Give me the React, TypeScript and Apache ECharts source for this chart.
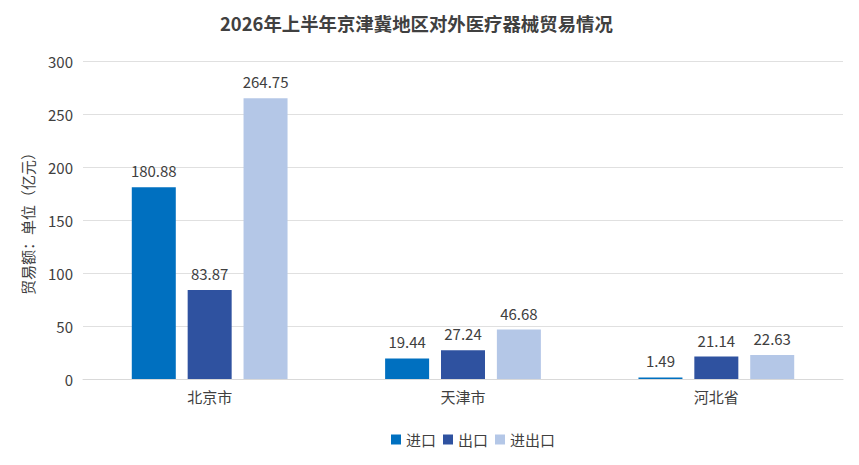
import React, { useEffect, useRef } from "react";
import * as echarts from "echarts";

const categories = ["北京市", "天津市", "河北省"];
const importValues = [180.88, 19.44, 1.49];
const exportValues = [83.87, 27.24, 21.14];
const totalValues = [264.75, 46.68, 22.63];
const seriesNames = ["进口", "出口", "进出口"];

const FONT = "'Noto Sans CJK SC', 'Noto Sans', sans-serif";

export default function App() {
  const ref = useRef<HTMLDivElement>(null);
  useEffect(() => {
    if (!ref.current) return;
    const chart = echarts.init(ref.current, null, { renderer: "svg" });
    const label = {
      show: true,
      position: "top",
      distance: 9,
      color: "#404040",
      fontSize: 15,
      fontFamily: FONT,
    };
    chart.setOption({
      animation: false,
      textStyle: { fontFamily: FONT },
      title: {
        text: "2026年上半年京津冀地区对外医疗器械贸易情况",
        left: 215,
        top: 9,
        textStyle: { fontSize: 18.4, fontWeight: "bold", color: "#404040", fontFamily: FONT },
      },
      legend: {
        bottom: 13,
        left: 386,
        itemWidth: 10,
        itemHeight: 10,
        itemGap: 7,
        icon: "rect",
        textStyle: { fontSize: 15, color: "#404040", fontFamily: FONT },
        data: seriesNames,
      },
      grid: { left: 83, right: 16, top: 61, bottom: 86 },
      xAxis: {
        type: "category",
        data: categories,
        axisLine: { lineStyle: { color: "#d9d9d9" } },
        axisTick: { show: false },
        axisLabel: { fontSize: 15, color: "#404040", margin: 10, fontFamily: FONT },
      },
      yAxis: {
        type: "value",
        min: 0,
        max: 300,
        interval: 50,
        name: "贸易额：单位（亿元）",
        nameLocation: "middle",
        nameGap: 48,
        nameRotate: 90,
        nameTextStyle: { fontSize: 15, color: "#404040", fontFamily: FONT },
        axisLine: { show: false },
        axisTick: { show: false },
        axisLabel: { fontSize: 15, color: "#404040", margin: 10, fontFamily: FONT },
        splitLine: { lineStyle: { color: "#e0e0e0" } },
      },
      series: [
        { name: seriesNames[0], type: "bar", data: importValues, barWidth: 44, barGap: "27%", itemStyle: { color: "#0070c0" }, label },
        { name: seriesNames[1], type: "bar", data: exportValues, barWidth: 44, barGap: "27%", itemStyle: { color: "#2f52a0" }, label },
        { name: seriesNames[2], type: "bar", data: totalValues, barWidth: 44, barGap: "27%", itemStyle: { color: "#b4c7e7" }, label },
      ],
    });
    return () => chart.dispose();
  }, []);
  return (
    <div
      ref={ref}
      style={{ position: "fixed", left: 0, top: 0, width: 859, height: 465, background: "#fff" }}
    />
  );
}
